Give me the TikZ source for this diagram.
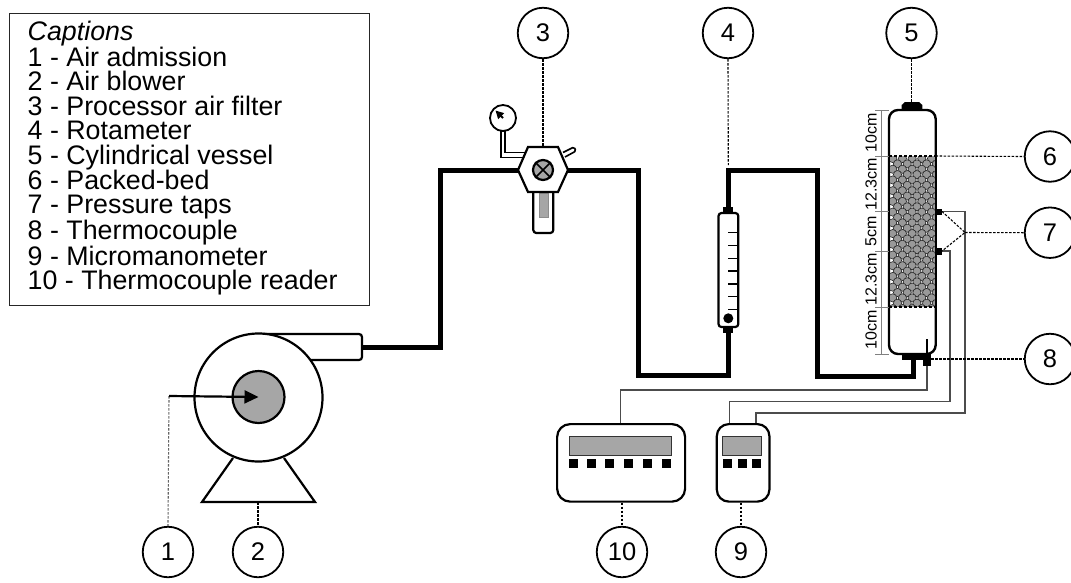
\documentclass[tikz,border=0pt]{standalone}
\usepackage{fontspec}
\setmainfont{Liberation Sans}
\usetikzlibrary{arrows.meta}
\tikzset{
  num/.style={draw=black,line width=1.8pt,circle,minimum size=50.5pt,inner sep=0pt,fill=white,font=\fontsize{25.5}{25.5}\selectfont},
  leader/.style={draw=black,line width=1.1pt,dash pattern=on 2.5pt off 1.5pt},
  pipe/.style={line width=5pt,line join=miter,line cap=butt},
  wire/.style={draw=black!70,line width=1.2pt},
  body/.style={draw=black,line width=2.2pt,fill=white},
  disp/.style={draw=black!80,line width=1pt,fill=black!35},
  dim/.style={draw=black!50,line width=.8pt},
  dimtext/.style={rotate=90,inner sep=0pt,font=\fontsize{16}{16}\selectfont},
}
\begin{document}
\begin{tikzpicture}[x=1pt,y=-1pt]
\useasboundingbox (0,0) rectangle (1071,582);
\fill[white] (0,0) rectangle (1071,582);
% caption box
\node[draw=black!85,line width=1.2pt,minimum width=360pt,minimum height=292pt,anchor=north west,inner sep=0pt] (capbox) at (9,13) {};
\node[anchor=north west,inner sep=0pt,align=left,font=\fontsize{26.8}{24.8}\selectfont] (captext) at (27.5,21) {\textit{Captions}\\[-0.2pt]1 - Air admission\\[-0.4pt]2 - Air blower\\[-0.4pt]3 - Processor air filter\\[-0.4pt]4 - Rotameter\\[-0.4pt]5 - Cylindrical vessel\\[-0.4pt]6 - Packed-bed\\[-0.4pt]7 - Pressure taps\\[-0.4pt]8 - Thermocouple\\[-0.4pt]9 - Micromanometer\\[-0.4pt]10 - Thermocouple reader};
% numbered circles
\node[num] (n1) at (168,552) {1};
\node[num] (n2) at (258,552) {2};
\node[num] (n3) at (543,33) {3};
\node[num] (n4) at (728,33) {4};
\node[num] (n5) at (911.5,33) {5};
\node[num] (n6) at (1050,156.5) {6};
\node[num] (n7) at (1050,232.7) {7};
\node[num] (n8) at (1050,359) {8};
\node[num] (n9) at (741,552) {9};
\node[num] (n10) at (622,552) {10};
% pipes
\coordinate (fanout) at (362,347);
\coordinate (hexL) at (518,170);
\coordinate (hexR) at (568,170);
\coordinate (rotB) at (728.3,333);
\coordinate (rotT) at (728.3,207);
\coordinate (vesB) at (913,359);
\draw[pipe] (fanout) -| (440,170) -- (hexL);
\draw[pipe] (hexR) -- (638,170) |- (728.3,375) -- (rotB);
\draw[pipe] (rotT) -- (728.3,170) -- (817,170) |- (913,376) -- (vesB);
% fan
\begin{scope}[rounded corners=3pt]
\draw[body] (258,334) -- (362,334) -- (362,360) -- (300,360) -- (258,360) -- cycle;
\end{scope}
\draw[body,line join=miter] (233,458) -- (202,502) -- (315,502) -- (284,458);
\node[body,circle,minimum size=128pt,inner sep=0pt] (fan) at (258.5,397.5) {};
\node[draw=black,line width=2.2pt,circle,fill=black!35,minimum size=52pt,inner sep=0pt] (hub) at (258.5,397) {};
\coordinate (a1) at (169,396);
\draw[leader,draw=black!60] (a1) -- (n1.north);
\draw[line width=2.2pt,-{Triangle[length=14pt,width=13pt]}] (a1) -- (hub.center);
\draw[leader] (258,502) -- (n2.north);
% filter
\draw[draw=black,line width=1.6pt,line join=miter] (500.7,131) -- (500.7,157.3) -- (526,157.3);
\draw[draw=black,line width=1.6pt,line join=miter] (505,131) -- (505,152.3) -- (528,152.3);
\node[draw=black,line width=1.8pt,fill=white,circle,minimum size=26pt,inner sep=0pt] (gauge) at (503,118) {};
\coordinate (needle) at (495.5,110.5);
\draw[line width=1.8pt,-{Triangle[length=8pt,width=8pt]}] (gauge.center) -- (needle);
\draw[body,line width=1.6pt,rounded corners=1.5pt] (563,152.5) -- (574,147) -- (576,151) -- (565,157);
\draw[body,rounded corners=3pt] (533.3,190) -- (533.3,233) -- (553.3,233) -- (553.3,190);
\fill[black!35,draw=black!45] (539,193) rectangle (548,217);
\draw[body,line join=miter] (518,170) -- (528,147) -- (558,147) -- (568,170) -- (558,192) -- (528,192) -- cycle;
\node[draw=black,line width=2.2pt,circle,fill=black!35,minimum size=20pt,inner sep=0pt] (valve) at (543,170) {};
\draw[line width=1.6pt] (valve.north west) -- (valve.south east) (valve.north east) -- (valve.south west);
\coordinate (hexT) at (543,147);
\draw[leader] (n3.south) -- (hexT);
% rotameter
\fill (723,207) rectangle (733,214);
\fill (723,326) rectangle (733,333);
\draw[body,rounded corners=3pt] (718.5,213) rectangle (738.3,327);
\foreach \y in {232.7,245.7,258.3,271,284,296.7,309.3} \draw[line width=1.2pt] (728,\y) -- (737,\y);
\fill (728.3,318.3) circle (5pt);
\draw[leader] (n4.south) -- (rotT |- 0,165);
% vessel
\fill (905,102) -- (919,102) -- (922.3,105) -- (922.3,111) -- (901.7,111) -- (901.7,105) -- cycle;
\draw[body,line width=2.4pt,rounded corners=9pt] (889,110) -- (935.7,110) -- (935.7,354) -- (889,354) -- cycle;
\begin{scope}
\clip (890.2,156) rectangle (934.5,306.5);
\foreach \r in {0,...,28}{
  \pgfmathsetmacro{\yy}{158.5+\r*5.36}
  \pgfmathsetmacro{\xo}{isodd(\r)?897.5:892.7}
  \foreach \c in {0,...,4}{
    \pgfmathsetmacro{\xx}{\xo+\c*9.7}
    \filldraw[fill=black!40,draw=black!85,line width=.6pt] (\xx,\yy) circle (4.1pt);
  }
}
\end{scope}
\draw[line width=1.6pt,dash pattern=on 3pt off 2pt] (889,155.7) -- (935.7,155.7);
\draw[line width=1.6pt,dash pattern=on 3pt off 2pt] (889,306.7) -- (935.7,306.7);
\fill (901.7,354) rectangle (930,360);
\fill (923,353) rectangle (931,366);
\draw[line width=1.5pt] (927,339) -- (927,353);
\fill (935.5,208.5) rectangle (942,215);
\fill (935.5,248) rectangle (942,254.5);
\coordinate (tapA) at (942,211.5);
\coordinate (tapB) at (942,251);
\coordinate (therm) at (931,359);
\coordinate (split) at (965,232.5);
\coordinate (bedtop) at (935.7,156);
% dimensions
\draw[dim] (881,110) -- (881,354);
\foreach \y in {110,156,211.5,251,307,354} \draw[dim] (875,\y) -- (889,\y);
\node[dimtext] (d1) at (871,133) {10cm};
\node[dimtext] (d2) at (871,184) {12.3cm};
\node[dimtext] (d3) at (871,231) {5cm};
\node[dimtext] (d4) at (871,279) {12.3cm};
\node[dimtext] (d5) at (871,330) {10cm};
% instruments
\node[body,rounded corners=13pt,minimum width=128pt,minimum height=77.5pt,anchor=north west,inner sep=0pt] (reader) at (556,423) {};
\node[disp,minimum width=102pt,minimum height=19.5pt,anchor=north west,inner sep=0pt] (rd) at (569,435.7) {};
\foreach \x in {573.3,591.3,609.3,628,647,666} \fill (\x-4.5,459.3) rectangle (\x+4.5,468.3);
\node[body,rounded corners=12pt,minimum width=52.6pt,minimum height=77.5pt,anchor=north west,inner sep=0pt] (micro) at (715.7,423) {};
\node[disp,minimum width=38.7pt,minimum height=19.5pt,anchor=north west,inner sep=0pt] (md) at (722.3,435.7) {};
\foreach \x in {727.3,742.3,756.7} \fill (\x-4.5,459.3) rectangle (\x+4.5,468.3);
% wires
\draw[wire,line width=1.5pt] (tapA) -- (965,211.5) -- (965,413) -- (756,413) -- (756,423);
\draw[wire] (tapB) -- (950,251) -- (950,401.7) -- (729.3,401.7) -- (729.3,423);
\draw[wire] (927,366) -- (927,390) -- (620.7,390) -- (620.7,423);
% leaders
\draw[leader] (n5.south) -- (911.5,102);
\draw[leader] (bedtop) -- (n6.west);
\draw[leader] (split) -- (n7.west);
\draw[leader] (tapA) -- (split) -- (tapB);
\draw[leader] (therm) -- (n8.west);
\draw[leader] (reader.south -| n10) -- (n10.north);
\draw[leader] (micro.south -| n9) -- (n9.north);
\end{tikzpicture}
\end{document}
